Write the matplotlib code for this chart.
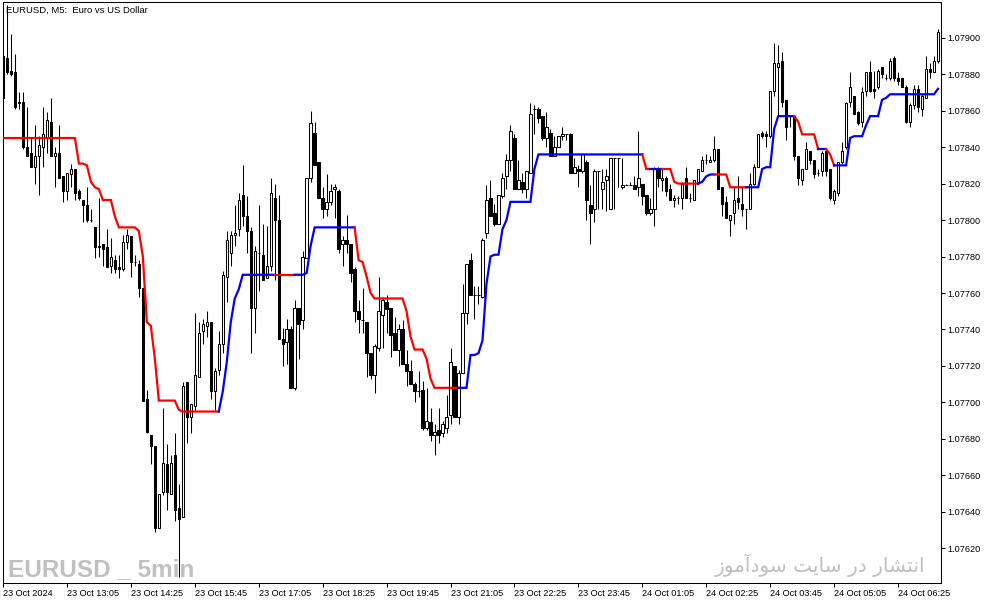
import matplotlib
matplotlib.use("Agg")
import matplotlib.pyplot as plt
import numpy as np

plt.rcParams["font.family"] = ["Liberation Sans", "DejaVu Sans"]

# ------------------------------------------------------------------------------
# Data (EURUSD M5, prices in 1e-5 units).
# ------------------------------------------------------------------------------

tick_labels = ["23 Oct 2024", "23 Oct 13:05", "23 Oct 14:25", "23 Oct 15:45",
               "23 Oct 17:05", "23 Oct 18:25", "23 Oct 19:45", "23 Oct 21:05",
               "23 Oct 22:25", "23 Oct 23:45", "24 Oct 01:05", "24 Oct 02:25",
               "24 Oct 03:45", "24 Oct 05:05", "24 Oct 06:25"]
tick_every = 16  # one label every 16 bars (80 minutes)

opens = [
    107890, 107889, 107882, 107881, 107864, 107865, 107840, 107837, 107829, 107835,
    107840, 107845, 107854, 107835, 107837, 107824, 107816, 107825, 107828, 107816,
    107811, 107808, 107800, 107796, 107785, 107787, 107785, 107775, 107778, 107774,
    107773, 107788, 107791, 107777, 107776, 107763, 107702, 107682, 107676, 107631,
    107651, 107666, 107650, 107671, 107642, 107637, 107711, 107692, 107698, 107714,
    107739, 107742, 107744, 107706, 107718, 107732, 107769, 107782, 107792, 107795,
    107814, 107802, 107794, 107752, 107782, 107781, 107768, 107775, 107812, 107800,
    107735, 107733, 107740, 107708, 107752, 107745, 107779, 107823, 107848, 107832,
    107812, 107806, 107810, 107817, 107816, 107787, 107789, 107787, 107773, 107750,
    107745, 107744, 107727, 107715, 107730, 107748, 107755, 107752, 107738, 107729,
    107740, 107721, 107717, 107710, 107706, 107707, 107686, 107689, 107682, 107685,
    107683, 107686, 107693, 107720, 107692, 107716, 107749, 107778, 107759, 107759,
    107758, 107793, 107812, 107804, 107798, 107813, 107824, 107833, 107845, 107817,
    107821, 107817, 107826, 107861, 107861, 107857, 107845, 107848, 107835, 107840,
    107846, 107847, 107847, 107826, 107828, 107827, 107832, 107808, 107806, 107827,
    107817, 107822, 107806, 107834, 107834, 107818, 107819, 107819, 107819, 107818,
    107820, 107814, 107804, 107806, 107828, 107822, 107823, 107817, 107811, 107812,
    107812, 107823, 107812, 107811, 107821, 107827, 107833, 107832, 107833, 107839,
    107818, 107810, 107800, 107804, 107812, 107809, 107806, 107806, 107820, 107829,
    107848, 107847, 107846, 107871, 107884, 107887, 107866, 107857, 107857, 107835,
    107822, 107828, 107838, 107833, 107826, 107827, 107838, 107828, 107811, 107815,
    107832, 107840, 107865, 107868, 107859, 107854, 107871, 107881, 107872, 107873,
    107884, 107878, 107878, 107889, 107878, 107878, 107873, 107854, 107863, 107872,
    107861, 107867, 107883, 107881, 107887,
]
highs = [
    107890, 107918, 107902, 107891, 107870, 107870, 107862, 107845, 107852, 107846,
    107862, 107859, 107867, 107840, 107852, 107824, 107826, 107831, 107828, 107817,
    107811, 107818, 107806, 107796, 107812, 107787, 107795, 107790, 107781, 107781,
    107792, 107795, 107791, 107781, 107778, 107763, 107707, 107682, 107676, 107650,
    107697, 107677, 107671, 107683, 107655, 107711, 107711, 107699, 107749, 107744,
    107746, 107750, 107744, 107719, 107739, 107772, 107794, 107794, 107808, 107815,
    107830, 107813, 107796, 107786, 107808, 107798, 107797, 107823, 107820, 107814,
    107741, 107746, 107742, 107756, 107752, 107783, 107823, 107860, 107854, 107832,
    107818, 107825, 107820, 107820, 107817, 107791, 107803, 107787, 107774, 107756,
    107763, 107744, 107727, 107732, 107769, 107758, 107759, 107752, 107747, 107743,
    107745, 107729, 107723, 107711, 107717, 107712, 107708, 107697, 107688, 107697,
    107690, 107704, 107730, 107720, 107718, 107765, 107776, 107782, 107764, 107764,
    107790, 107819, 107822, 107809, 107814, 107826, 107836, 107852, 107847, 107833,
    107826, 107827, 107864, 107863, 107862, 107857, 107859, 107850, 107846, 107846,
    107851, 107847, 107848, 107834, 107830, 107836, 107833, 107819, 107828, 107827,
    107828, 107828, 107834, 107834, 107834, 107834, 107820, 107821, 107824, 107849,
    107820, 107814, 107812, 107829, 107829, 107828, 107824, 107820, 107814, 107813,
    107821, 107829, 107815, 107822, 107828, 107835, 107836, 107835, 107846, 107839,
    107818, 107813, 107803, 107818, 107824, 107818, 107806, 107826, 107831, 107847,
    107849, 107849, 107871, 107897, 107896, 107892, 107866, 107857, 107857, 107835,
    107828, 107843, 107838, 107833, 107828, 107838, 107838, 107828, 107817, 107832,
    107843, 107865, 107881, 107868, 107860, 107873, 107881, 107887, 107882, 107883,
    107884, 107880, 107889, 107890, 107881, 107878, 107874, 107864, 107874, 107874,
    107869, 107890, 107886, 107890, 107905,
]
lows = [
    107867, 107880, 107879, 107861, 107861, 107839, 107835, 107829, 107820, 107814,
    107829, 107837, 107835, 107818, 107823, 107810, 107811, 107818, 107811, 107811,
    107799, 107799, 107799, 107779, 107780, 107775, 107774, 107771, 107771, 107768,
    107772, 107784, 107769, 107775, 107758, 107701, 107683, 107666, 107629, 107631,
    107649, 107641, 107650, 107635, 107604, 107637, 107678, 107683, 107696, 107714,
    107732, 107736, 107702, 107696, 107715, 107727, 107755, 107775, 107786, 107791,
    107797, 107782, 107727, 107738, 107761, 107767, 107768, 107772, 107767, 107735,
    107720, 107721, 107708, 107707, 107724, 107740, 107779, 107821, 107830, 107812,
    107801, 107802, 107808, 107801, 107782, 107775, 107782, 107766, 107744, 107738,
    107738, 107714, 107713, 107705, 107728, 107730, 107738, 107725, 107729, 107720,
    107721, 107709, 107710, 107700, 107703, 107685, 107685, 107679, 107671, 107678,
    107681, 107683, 107688, 107692, 107688, 107716, 107743, 107759, 107746, 107754,
    107757, 107790, 107802, 107797, 107798, 107812, 107817, 107827, 107817, 107817,
    107815, 107812, 107826, 107847, 107853, 107844, 107840, 107835, 107835, 107840,
    107844, 107844, 107826, 107826, 107818, 107826, 107800, 107787, 107799, 107806,
    107806, 107805, 107806, 107806, 107818, 107817, 107819, 107819, 107817, 107813,
    107808, 107803, 107803, 107797, 107818, 107816, 107813, 107811, 107807, 107809,
    107806, 107812, 107810, 107811, 107820, 107827, 107831, 107832, 107832, 107817,
    107802, 107801, 107791, 107798, 107806, 107802, 107795, 107806, 107819, 107829,
    107845, 107840, 107845, 107868, 107857, 107862, 107844, 107851, 107833, 107819,
    107819, 107828, 107831, 107823, 107824, 107824, 107824, 107811, 107809, 107813,
    107831, 107839, 107862, 107858, 107852, 107851, 107868, 107870, 107867, 107872,
    107878, 107877, 107877, 107876, 107874, 107873, 107853, 107851, 107861, 107859,
    107857, 107867, 107878, 107881, 107886,
]
closes = [
    107867, 107881, 107880, 107862, 107865, 107840, 107835, 107829, 107835, 107841,
    107847, 107855, 107835, 107837, 107823, 107816, 107826, 107828, 107815, 107812,
    107808, 107800, 107800, 107785, 107786, 107784, 107774, 107780, 107773, 107773,
    107788, 107792, 107777, 107777, 107763, 107701, 107684, 107676, 107631, 107650,
    107667, 107651, 107667, 107641, 107636, 107709, 107692, 107699, 107715, 107738,
    107743, 107744, 107706, 107717, 107732, 107770, 107789, 107792, 107793, 107811,
    107802, 107794, 107752, 107783, 107782, 107767, 107775, 107815, 107800, 107735,
    107732, 107740, 107708, 107752, 107743, 107780, 107823, 107853, 107830, 107812,
    107806, 107810, 107816, 107818, 107784, 107789, 107787, 107771, 107750, 107746,
    107745, 107727, 107715, 107731, 107750, 107756, 107751, 107737, 107729, 107740,
    107721, 107717, 107710, 107706, 107706, 107686, 107690, 107682, 107684, 107682,
    107688, 107692, 107722, 107692, 107716, 107749, 107776, 107759, 107759, 107759,
    107789, 107811, 107802, 107798, 107814, 107823, 107833, 107849, 107817, 107822,
    107817, 107827, 107858, 107861, 107856, 107845, 107851, 107835, 107840, 107846,
    107847, 107847, 107826, 107829, 107827, 107836, 107811, 107804, 107827, 107827,
    107821, 107824, 107834, 107834, 107834, 107819, 107819, 107819, 107817, 107823,
    107813, 107804, 107806, 107828, 107823, 107823, 107816, 107811, 107812, 107812,
    107820, 107812, 107812, 107822, 107828, 107833, 107833, 107833, 107839, 107817,
    107809, 107801, 107803, 107811, 107810, 107806, 107806, 107820, 107829, 107847,
    107846, 107846, 107871, 107886, 107886, 107865, 107851, 107857, 107835, 107823,
    107828, 107839, 107833, 107825, 107826, 107837, 107827, 107812, 107816, 107832,
    107838, 107864, 107873, 107858, 107853, 107870, 107881, 107871, 107871, 107882,
    107880, 107878, 107887, 107878, 107876, 107873, 107854, 107863, 107872, 107862,
    107868, 107883, 107881, 107887, 107903,
]

# trailing stop style indicator, one value per bar
stop_line = (
    [107845] * 19 + [107831, 107831, 107830, 107821, 107818, 107817]
    + [107811] * 3 + [107802] + [107796] * 5 + [107794, 107780, 107744, 107742, 107724]
    + [107701] * 5 + [107696] + [107695] * 10 + [107706, 107722, 107744, 107757, 107762]
    + [107770] * 16 + [107771, 107786] + [107796] * 11 + [107778, 107777, 107769, 107760]
    + [107757] * 8 + [107750, 107736] + [107729] * 3 + [107724, 107713]
    + [107708] * 9 + [107726, 107726, 107727, 107734, 107765, 107780, 107781, 107781]
    + [107795, 107800] + [107810] * 6 + [107828] + [107836] * 27 + [107828] * 7
    + [107821] + [107820] * 6 + [107821, 107824] + [107825] * 5 + [107818] * 8
    + [107828, 107829, 107829, 107850] + [107857] * 5 + [107854] + [107847] * 4
    + [107839] * 3 + [107836] + [107830] * 4 + [107845] + [107846] * 3 + [107852]
    + [107857] * 3 + [107866, 107867] + [107869] * 12 + [107872]
)
# bar ranges (inclusive) where the indicator is in up-trend (blue)
up_runs = [(55, 68), (74, 88), (115, 160), (163, 165), (175, 178),
           (187, 198), (205, 206), (209, 234)]

# ------------------------------------------------------------------------------
# Helpers.
# ------------------------------------------------------------------------------

# Persian letters: isolated, final, initial, medial presentation forms
FA_FORMS = {
    "ا": ("\ufe8d", "\ufe8e", None, None),
    "آ": ("\ufe81", "\ufe82", None, None),
    "د": ("\ufea9", "\ufeaa", None, None),
    "ر": ("\ufead", "\ufeae", None, None),
    "ز": ("\ufeaf", "\ufeb0", None, None),
    "و": ("\ufeed", "\ufeee", None, None),
    "ن": ("\ufee5", "\ufee6", "\ufee7", "\ufee8"),
    "ت": ("\ufe95", "\ufe96", "\ufe97", "\ufe98"),
    "ش": ("\ufeb5", "\ufeb6", "\ufeb7", "\ufeb8"),
    "س": ("\ufeb1", "\ufeb2", "\ufeb3", "\ufeb4"),
    "ی": ("\ufef1", "\ufef2", "\ufef3", "\ufef4"),
    "م": ("\ufee1", "\ufee2", "\ufee3", "\ufee4"),
}


def shape_fa(text):
    """Join Persian letters and put them in visual (left-to-right) order."""
    words = []
    for word in text.split(" "):
        glyphs = []
        for k, ch in enumerate(word):
            iso, fin, ini, med = FA_FORMS[ch]
            prev_joins = k > 0 and FA_FORMS[word[k - 1]][2] is not None
            next_joins = k < len(word) - 1 and ini is not None
            if prev_joins and next_joins:
                glyphs.append(med)
            elif prev_joins:
                glyphs.append(fin)
            elif next_joins:
                glyphs.append(ini)
            else:
                glyphs.append(iso)
        words.append("".join(reversed(glyphs)))
    return " ".join(reversed(words))


# ------------------------------------------------------------------------------
# Plot.
# ------------------------------------------------------------------------------

o = np.array(opens) / 1e5
h = np.array(highs) / 1e5
l = np.array(lows) / 1e5
c = np.array(closes) / 1e5
line = np.array(stop_line) / 1e5
n = len(o)
x = np.arange(n)

trend = np.full(n, -1)
for a, b in up_runs:
    trend[a:b + 1] = 1

fig = plt.figure(figsize=(9.94, 6.05), dpi=100)
ax = fig.add_axes([3 / 994, 22 / 605, 938 / 994, 581 / 605])

# wicks, then bodies on top
ax.vlines(x, l, h, color="black", linewidth=0.75, zorder=2)
bull = c >= o
ax.bar(x, np.abs(c - o), bottom=np.minimum(o, c), width=0.6,
       color=np.where(bull, "white", "black"), edgecolor="black",
       linewidth=0.75, zorder=3)

# indicator line, coloured by trend
start = 0
for i in range(1, n + 1):
    if i == n or trend[i] != trend[start]:
        s = max(start - 1, 0)
        ax.plot(x[s:i], line[s:i], color="#0000ff" if trend[start] > 0 else "#ff0000",
                linewidth=1.6, solid_joinstyle="miter", zorder=4)
        start = i

ax.set_xlim(0.25, 234.75)
ax.set_ylim(1.0760096, 1.0791960)

ax.yaxis.tick_right()
yt = np.arange(107620, 107901, 20) / 1e5
ax.set_yticks(yt)
ax.set_yticklabels([f"{v:.5f}" for v in yt])
ax.set_xticks(np.arange(len(tick_labels)) * tick_every)
ax.set_xticklabels(tick_labels, ha="left")
ax.tick_params(axis="both", direction="out", length=3, width=0.75,
               labelsize=6.6, pad=1.5, colors="black")
for sp in ax.spines.values():
    sp.set_linewidth(0.75)

fig.text(6 / 994, 1 - 10 / 605, "EURUSD, M5:  Euro vs US Dollar",
         fontsize=6.8, va="center", ha="left")

fig.text(8 / 994, 1 - 576 / 605, "EURUSD _ 5min", fontsize=17.5,
         fontweight="bold", color="#c0c0c0", va="baseline", ha="left",
         family=["Liberation Sans", "DejaVu Sans"])
fig.text(925 / 994, 1 - 572 / 605, shape_fa("انتشار در سایت سودآموز"),
         fontsize=14.5, color="#c0c0c0", va="baseline", ha="right",
         family=["DejaVu Sans"])

fig.savefig("out.png", dpi=100)
